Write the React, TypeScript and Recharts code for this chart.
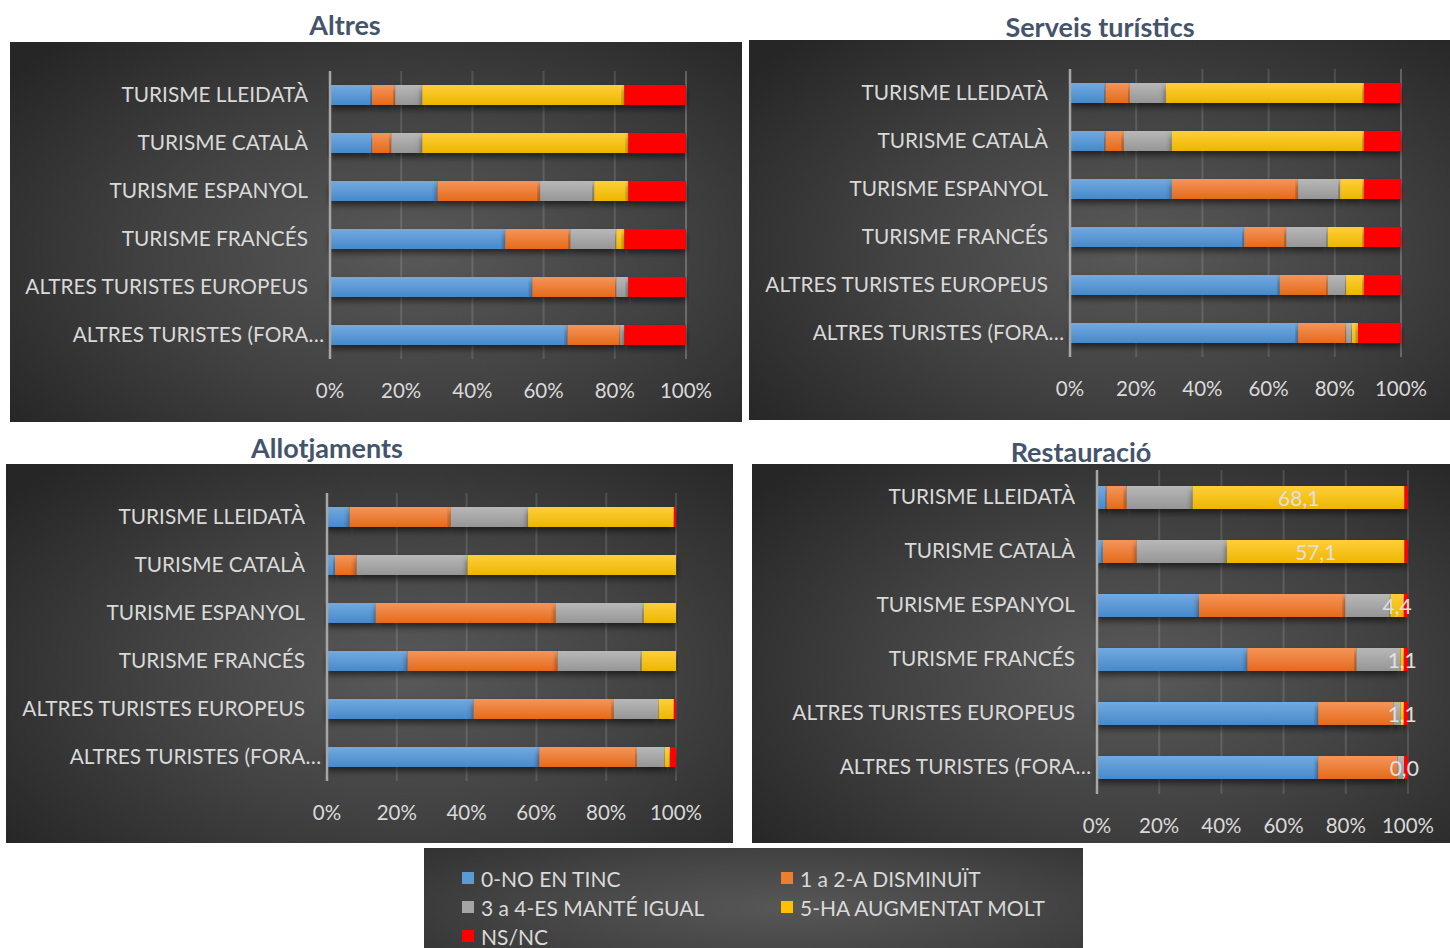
import React from 'react';
import { BarChart, Bar, XAxis, YAxis, CartesianGrid, LabelList } from 'recharts';

// Row labels shared by the four panels (top to bottom)
const categories = [
  'TURISME LLEIDATÀ',
  'TURISME CATALÀ',
  'TURISME ESPANYOL',
  'TURISME FRANCÉS',
  'ALTRES TURISTES EUROPEUS',
  'ALTRES TURISTES (FORA…',
];

const seriesKeys = ['tinc', 'disminuit', 'igual', 'augmentat', 'nsnc'];
const seriesNames = ['0-NO EN TINC', '1 a 2-A DISMINUÏT', '3 a 4-ES MANTÉ IGUAL', '5-HA AUGMENTAT MOLT', 'NS/NC'];
const seriesColors = ['#5B9BD5', '#ED7D31', '#A5A5A5', '#FFC000', '#FF0000'];
const seriesTop = ['#72AAE0', '#F4955A', '#B8B8B8', '#FFCF3A', '#FF0000'];
const seriesBottom = ['#4789CB', '#E56A1A', '#969696', '#EDB600', '#FF0000'];

const xTicks = [0, 20, 40, 60, 80, 100];

// Altres (%)
const altresTinc = [11.8, 11.8, 30.2, 49.2, 56.8, 66.7];
const altresDisminuit = [6.5, 5.4, 28.8, 18.3, 23.6, 14.8];
const altresIgual = [7.6, 8.7, 15.2, 12.9, 3.4, 1.2];
const altresAugmentat = [56.8, 57.9, 9.6, 2.3, 0, 0];
const altresNsnc = [17.3, 16.2, 16.2, 17.3, 16.2, 17.3];

// Serveis turístics (%)
const serveisTinc = [10.7, 10.7, 30.8, 52.6, 63.4, 68.9];
const serveisDisminuit = [7.4, 5.6, 38.1, 12.7, 14.5, 14.5];
const serveisIgual = [10.9, 14.5, 12.7, 12.6, 5.5, 1.8];
const serveisAugmentat = [59.8, 58.0, 7.2, 10.9, 5.4, 1.8];
const serveisNsnc = [11.2, 11.2, 11.2, 11.2, 11.2, 13.0];

// Allotjaments (%)
const allotTinc = [6.5, 2.3, 14.0, 23.1, 42.0, 60.8];
const allotDisminuit = [29.0, 6.2, 51.6, 43.0, 40.2, 28.0];
const allotIgual = [22.1, 31.8, 25.2, 24.1, 12.9, 8.0];
const allotAugmentat = [41.8, 59.7, 9.2, 9.8, 4.3, 1.5];
const allotNsnc = [0.6, 0, 0, 0, 0.6, 1.7];

// Restauració (%)
const restTinc = [3.1, 1.9, 32.8, 48.3, 71.1, 71.1];
const restDisminuit = [6.4, 10.9, 47.0, 35.1, 24.2, 25.5];
const restIgual = [21.3, 29.0, 14.5, 14.2, 2.3, 2.2];
const restAugmentat = [68.1, 57.1, 4.4, 1.1, 1.1, 0.0];
const restNsnc = [1.1, 1.1, 1.3, 1.3, 1.3, 1.2];

const buildRows = (cols: number[][]) =>
  categories.map((cat, i) => {
    const row: Record<string, any> = { cat };
    seriesKeys.forEach((k, s) => {
      row[k] = cols[s][i];
    });
    return row;
  });

const FONT = 'Lato, "Open Sans", sans-serif';
const TEXT = '#D9D9D9';

const fmt = (v: number) => v.toFixed(1).replace('.', ',');

// Category tick; a truncated name (ending in an ellipsis) sits a little closer to the axis
const CategoryTick = (props: any) => {
  const { x, y, payload } = props;
  const v = String(payload?.value ?? '');
  const shift = v.endsWith('…') ? 16 : 0;
  return (
    <text
      x={x + shift}
      y={y}
      dy="0.355em"
      textAnchor="end"
      fill={TEXT}
      fontSize={20.8}
      fontFamily={FONT}
    >
      {v}
    </text>
  );
};

// Value label for the "5-HA AUGMENTAT MOLT" segment. It is hung off the NS/NC
// segment that follows it (always non-empty), so rows whose value is 0 still
// get their "0,0" label: the pixel scale comes from the NS/NC rect itself.
const makeAugmentatLabel = (rows: Record<string, any>[]) => (props: any) => {
  const idx = props.index;
  if (idx == null || !rows[idx]) return null;
  const vb = props.viewBox && props.viewBox.width != null ? props.viewBox : props;
  const aug = Number(rows[idx].augmentat);
  const ns = Number(rows[idx].nsnc);
  if (!ns) return null;
  const k = vb.width / ns;
  const cx = vb.x - (aug * k) / 2;
  const cy = vb.y + vb.height / 2;
  return (
    <text
      key={`aug-${idx}`}
      x={cx}
      y={cy}
      textAnchor="middle"
      dominantBaseline="central"
      fill="#E0E0E0"
      fontSize={21}
      fontFamily={FONT}
    >
      {fmt(aug)}
    </text>
  );
};

type PanelProps = {
  id: string;
  title: string;
  titleX: number;
  titleY: number;
  left: number;
  top: number;
  width: number;
  height: number;
  data: Record<string, any>[];
  margin: { top: number; right: number; bottom: number; left: number };
  yWidth: number;
  barSize: number;
  showValues?: boolean;
};

const Panel = (p: PanelProps) => (
  <>
    <div
      style={{
        position: 'absolute',
        left: p.titleX - 200,
        top: p.titleY - 17,
        width: 400,
        textAlign: 'center',
        fontFamily: FONT,
        fontWeight: 700,
        fontSize: 27,
        lineHeight: '34px',
        color: '#44546A',
      }}
    >
      {p.title}
    </div>
    <div
      style={{
        position: 'absolute',
        left: p.left,
        top: p.top,
        width: p.width,
        height: p.height,
        background: 'radial-gradient(ellipse 70% 75% at 55% 55%, #595959 0%, #424242 50%, #262626 100%)',
      }}
    >
      <BarChart
        width={p.width}
        height={p.height}
        data={p.data}
        layout="vertical"
        margin={p.margin}
        barSize={p.barSize}
      >
        <defs>
          {seriesKeys.map((k, s) => (
            <linearGradient key={k} id={`${p.id}-${k}`} x1="0" y1="0" x2="0" y2="1">
              <stop offset="0%" stopColor={seriesTop[s]} />
              <stop offset="100%" stopColor={seriesBottom[s]} />
            </linearGradient>
          ))}
          <filter id={`${p.id}-shadow`} x="-5%" y="-30%" width="110%" height="190%">
            <feDropShadow dx="0" dy="4" stdDeviation="3" floodColor="#000" floodOpacity="0.55" />
          </filter>
        </defs>
        <CartesianGrid horizontal={false} stroke="rgba(255,255,255,0.13)" strokeWidth={2} />
        <XAxis
          type="number"
          domain={[0, 100]}
          ticks={xTicks}
          tickFormatter={(v: number) => `${v}%`}
          axisLine={false}
          tickLine={false}
          tickSize={0}
          tickMargin={24}
          height={30}
          tick={{ fill: TEXT, fontSize: 20.5, fontFamily: FONT }}
          interval={0}
        />
        <YAxis
          type="category"
          dataKey="cat"
          width={p.yWidth}
          axisLine={{ stroke: '#A6A6A6', strokeWidth: 2.5 }}
          tickLine={false}
          tickSize={0}
          tickMargin={22}
          tick={<CategoryTick />}
          interval={0}
        />
        {seriesKeys.map((k, s) => (
          <Bar
            key={k}
            dataKey={k}
            name={seriesNames[s]}
            stackId="a"
            fill={`url(#${p.id}-${k})`}
            filter={`url(#${p.id}-shadow)`}
            isAnimationActive={false}
          >
            {p.showValues && k === 'nsnc' && (
              <LabelList dataKey="augmentat" content={makeAugmentatLabel(p.data)} />
            )}
          </Bar>
        ))}
      </BarChart>
    </div>
  </>
);

const Legend = () => (
  <div
    style={{
      position: 'absolute',
      left: 424,
      top: 848,
      width: 659,
      height: 100,
      background: 'radial-gradient(ellipse 70% 90% at 55% 60%, #575757 0%, #454545 55%, #333333 100%)',
      fontFamily: FONT,
      fontSize: 21,
      color: TEXT,
    }}
  >
    {seriesNames.map((name, s) => {
      const col = s % 2;
      const row = Math.floor(s / 2);
      return (
        <div
          key={name}
          style={{
            position: 'absolute',
            left: col === 0 ? 38 : 357,
            top: 30 + row * 29 - 12,
            height: 24,
            display: 'flex',
            alignItems: 'center',
            whiteSpace: 'nowrap',
          }}
        >
          <span
            style={{
              display: 'inline-block',
              width: 12,
              height: 12,
              background: seriesColors[s],
              marginRight: 7,
            }}
          />
          {name}
        </div>
      );
    })}
  </div>
);

export default function App() {
  return (
    <div style={{ position: 'absolute', left: 0, top: 0, width: 1450, height: 948, background: '#FFFFFF', overflow: 'hidden' }}>
      <Panel
        id="altres"
        title="Altres"
        titleX={345}
        titleY={25}
        left={10}
        top={42}
        width={732}
        height={380}
        data={buildRows([altresTinc, altresDisminuit, altresIgual, altresAugmentat, altresNsnc])}
        margin={{ top: 29, right: 56, bottom: 33, left: 0 }}
        yWidth={320}
        barSize={20}
      />
      <Panel
        id="serveis"
        title="Serveis turístics"
        titleX={1100}
        titleY={27}
        left={749}
        top={40}
        width={701}
        height={380}
        data={buildRows([serveisTinc, serveisDisminuit, serveisIgual, serveisAugmentat, serveisNsnc])}
        margin={{ top: 29, right: 49, bottom: 33, left: 0 }}
        yWidth={321}
        barSize={20}
      />
      <Panel
        id="allot"
        title="Allotjaments"
        titleX={327}
        titleY={448}
        left={6}
        top={464}
        width={727}
        height={379}
        data={buildRows([allotTinc, allotDisminuit, allotIgual, allotAugmentat, allotNsnc])}
        margin={{ top: 29, right: 57, bottom: 32, left: 0 }}
        yWidth={321}
        barSize={20}
      />
      <Panel
        id="rest"
        title="Restauració"
        titleX={1081}
        titleY={452}
        left={752}
        top={464}
        width={698}
        height={379}
        data={buildRows([restTinc, restDisminuit, restIgual, restAugmentat, restNsnc])}
        margin={{ top: 6, right: 42, bottom: 19, left: 0 }}
        yWidth={345}
        barSize={23}
        showValues
      />
      <Legend />
    </div>
  );
}
